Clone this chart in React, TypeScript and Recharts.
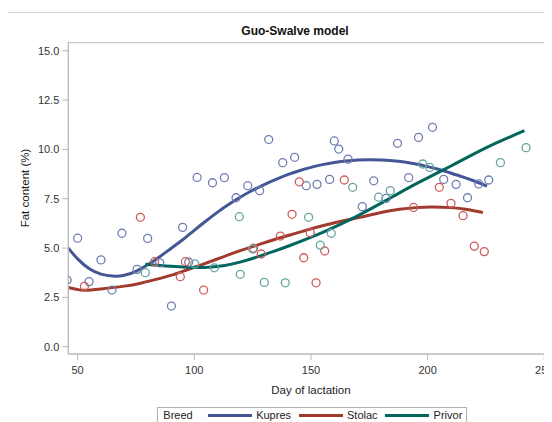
import React from 'react';
import { ComposedChart, Scatter, Line, XAxis, YAxis, ReferenceArea } from 'recharts';

// ---- Data (day of lactation, fat content %) ----
const kupresPoints: [number, number][] = [
  [45.5, 3.38], [50, 5.5], [54.9, 3.3], [60, 4.4], [64.7, 2.87], [69, 5.75], [75.5, 3.92], [80, 5.49],
  [85.2, 4.25], [90.2, 2.06], [95, 6.05], [97.6, 4.28], [101.2, 8.58], [107.8, 8.31], [112.9, 8.57],
  [117.9, 7.55], [122.9, 8.16], [128, 7.91], [131.9, 10.5], [137.9, 9.33], [143, 9.6], [148, 8.16],
  [152.6, 8.23], [158, 8.48], [160, 10.43], [161.9, 10.02], [165.9, 9.51], [172, 7.1], [176.9, 8.41],
  [182.2, 7.52], [187.1, 10.31], [191.9, 8.57], [196.1, 10.61], [202.1, 11.12], [206.9, 8.48],
  [212.2, 8.23], [217.1, 7.55], [221.9, 8.25], [226.2, 8.45],
];
const stolacPoints: [number, number][] = [
  [52.9, 3.06], [76.9, 6.56], [83, 4.31], [94, 3.55], [96.2, 4.31], [104, 2.87], [125.4, 4.99],
  [128.7, 4.7], [136.9, 5.61], [141.9, 6.71], [145, 8.36], [146.9, 4.51], [149.7, 5.78], [152.2, 3.24],
  [155.9, 4.85], [164.3, 8.45], [194, 7.06], [205, 8.08], [210, 7.27], [215.2, 6.64], [220, 5.1], [224.3, 4.82],
];
const privorPoints: [number, number][] = [
  [79, 3.75], [100.2, 4.2], [108.6, 4.0], [119.3, 6.59], [119.7, 3.67], [125, 4.95], [130, 3.26],
  [139, 3.24], [149, 6.56], [154, 5.15], [158.7, 5.75], [167.9, 8.08], [179, 7.58], [184, 7.91],
  [197.9, 9.26], [200.9, 9.09], [231.2, 9.33], [242.2, 10.09],
];

// Fitted Guo-Swalve curves
const kupresCurve: [number, number][] = [
  [46, 5.0], [50, 4.45], [55, 3.95], [60, 3.68], [65, 3.58], [70, 3.62], [75, 3.82], [80, 4.15],
  [85, 4.55], [90, 4.98], [95, 5.42], [100, 5.9], [105, 6.37], [110, 6.82], [115, 7.23], [120, 7.6],
  [125, 7.93], [130, 8.22], [135, 8.48], [140, 8.72], [145, 8.92], [150, 9.09], [155, 9.23], [160, 9.34],
  [165, 9.41], [170, 9.46], [175, 9.48], [180, 9.47], [185, 9.43], [190, 9.36], [195, 9.26], [200, 9.13],
  [205, 8.98], [210, 8.8], [215, 8.61], [220, 8.4], [225.5, 8.14],
];
const stolacCurve: [number, number][] = [
  [46, 3.0], [50, 2.9], [53, 2.86], [60, 2.93], [70, 3.07], [77, 3.22], [85, 3.45], [91, 3.65], [97, 3.9],
  [103, 4.15], [113, 4.58], [120, 4.88], [127, 5.15], [134, 5.42], [141, 5.66], [148, 5.91], [155, 6.13],
  [162, 6.33], [171, 6.56], [181, 6.83], [188, 6.97], [195, 7.05], [202, 7.08], [210, 7.05], [217, 6.96],
  [223.7, 6.8],
];
const privorCurve: [number, number][] = [
  [79, 4.18], [90, 4.08], [100, 4.02], [106, 4.03], [113, 4.12], [120, 4.3], [127, 4.55], [134, 4.83],
  [141, 5.13], [148, 5.45], [157, 5.9], [167, 6.45], [175, 6.95], [185, 7.6], [195, 8.25], [210, 9.16],
  [225, 10.08], [241.5, 10.95],
];

const breeds = ['Kupres', 'Stolac', 'Privor'];
const lineColors = ['#445694', '#A23A2E', '#01665E'];
const markColors = ['#6F7EB3', '#D05B5B', '#66A5A0'];

const xTicks = [50, 100, 150, 200, 250];
const yTicks = [0, 2.5, 5, 7.5, 10, 12.5, 15];
const xDomain: [number, number] = [46, 254];
const yDomain: [number, number] = [-0.37, 15.41];

const toObj = (arr: [number, number][]) => arr.map(([x, y]) => ({ x, y }));
const pointSets = [kupresPoints, stolacPoints, privorPoints].map(toObj);
const curveSets = [kupresCurve, stolacCurve, privorCurve].map(toObj);

const FONT = '"Liberation Sans", Arial, Helvetica, sans-serif';
const FRAME = '#b9b9b9';

const makeShape = (color: string) => (p: any) => (
  <circle cx={p.cx} cy={p.cy} r={4} fill="none" stroke={color} strokeWidth={1.3} />
);

export default function App() {
  return (
    <div style={{ position: 'relative', width: 544, height: 414, overflow: 'hidden', fontFamily: FONT }}>
      <div style={{ position: 'absolute', left: 0, right: 0, top: 4, borderTop: '1px solid #d6d6d6' }} />
      <div
        style={{
          position: 'absolute', left: 287, top: 16, transform: 'translateX(-50%)', whiteSpace: 'nowrap',
          fontSize: 12, fontWeight: 'bold', lineHeight: '14px', color: '#111',
        }}
      >
        Guo-Swalve model
      </div>
      <ComposedChart
        width={552}
        height={414}
        margin={{ top: 34.7, right: 6.4, left: 0, bottom: 0 }}
        style={{ fontFamily: FONT }}
      >
        <XAxis
          type="number"
          dataKey="x"
          domain={xDomain}
          ticks={xTicks}
          allowDataOverflow
          height={68}
          tickSize={6}
          tickMargin={6}
          stroke={FRAME}
          tick={{ fill: '#333', fontSize: 11 }}
          tickLine={{ stroke: FRAME }}
          axisLine={{ stroke: FRAME }}
          label={{
            content: (p: any) => (
              <text
                x={p.viewBox.x + p.viewBox.width / 2}
                y={p.viewBox.y + 40}
                textAnchor="middle"
                fontSize={11.5}
                fill="#222"
              >
                Day of lactation
              </text>
            ),
          }}
        />
        <YAxis
          type="number"
          dataKey="y"
          domain={yDomain}
          ticks={yTicks}
          allowDataOverflow
          width={60.3}
          tickSize={6}
          tickMargin={3}
          tickFormatter={(v: number) => v.toFixed(1)}
          tick={{ fill: '#333', fontSize: 11 }}
          tickLine={{ stroke: FRAME }}
          axisLine={{ stroke: FRAME }}
          label={{
            content: () => (
              <text x={21.3} y={180} transform="rotate(-90 21.3 180)" textAnchor="middle" fontSize={11.5} fill="#222">
                Fat content (%)
              </text>
            ),
          }}
        />
        <ReferenceArea
          x1={xDomain[0]}
          x2={xDomain[1]}
          y1={yDomain[0]}
          y2={yDomain[1]}
          fill="none"
          stroke={FRAME}
          strokeWidth={1}
          ifOverflow="visible"
        />
        {breeds.map((b, i) => (
          <Scatter
            key={'s' + b}
            name={b}
            data={pointSets[i]}
            shape={makeShape(markColors[i])}
            isAnimationActive={false}
            legendType="none"
          />
        ))}
        {breeds.map((b, i) => (
          <Line
            key={'l' + b}
            name={b}
            data={curveSets[i]}
            dataKey="y"
            type="natural"
            stroke={lineColors[i]}
            strokeWidth={3}
            dot={false}
            activeDot={false}
            isAnimationActive={false}
          />
        ))}
      </ComposedChart>
      <div
        style={{
          position: 'absolute', left: 149.3, top: 399.3, height: 14, border: '1px solid #b0b0b0',
          display: 'flex', alignItems: 'center', fontSize: 11, color: '#222', padding: '0 4px 0 5px',
          whiteSpace: 'nowrap', boxSizing: 'content-box', lineHeight: '14px',
        }}
      >
        <span style={{ marginRight: 15 }}>Breed</span>
        {breeds.map((b, i) => (
          <React.Fragment key={b}>
            <span style={{ display: 'inline-block', width: 44, height: 3, background: lineColors[i], marginRight: 4.5 }} />
            <span style={{ marginRight: i < breeds.length - 1 ? 7.5 : 0 }}>{b}</span>
          </React.Fragment>
        ))}
      </div>
    </div>
  );
}
